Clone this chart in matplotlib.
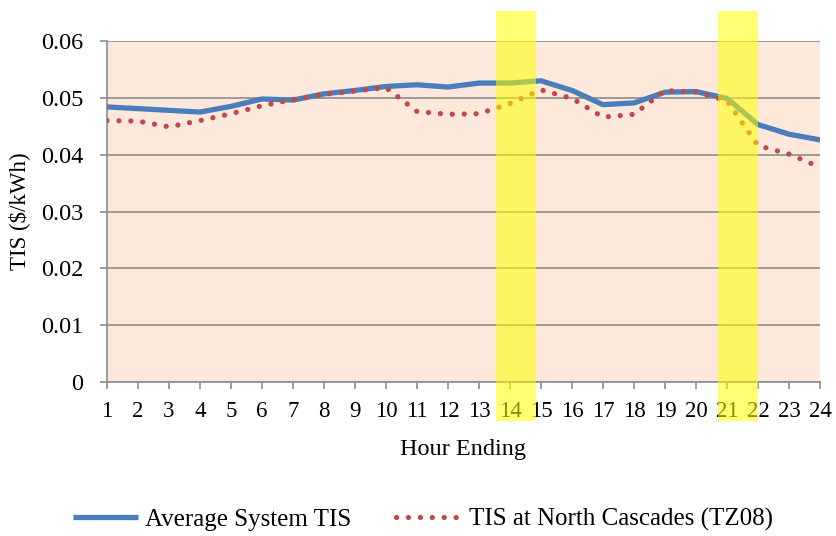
import matplotlib
matplotlib.use("Agg")
import matplotlib.pyplot as plt
import matplotlib.transforms as mtransforms
from matplotlib.patches import Rectangle
import numpy as np

plt.rcParams['font.family'] = ['Liberation Serif', 'DejaVu Serif']

hours = list(range(1, 25))
avg_tis = [0.0484, 0.0481, 0.0478, 0.0475, 0.0485, 0.0498, 0.0496, 0.0507, 0.0513,
           0.0520, 0.0523, 0.0519, 0.0526, 0.0526, 0.0530, 0.0513, 0.0488, 0.0491,
           0.0510, 0.0511, 0.0499, 0.0453, 0.0436, 0.0426]
north_cascades = [0.0460, 0.0459, 0.0449, 0.0460, 0.0472, 0.0486, 0.0497, 0.0506, 0.0512,
                  0.0518, 0.0476, 0.0471, 0.0472, 0.0490, 0.0514, 0.0499, 0.0466, 0.0471,
                  0.0513, 0.0510, 0.0495, 0.0416, 0.0401, 0.0378]
y_ticks = [0, 0.01, 0.02, 0.03, 0.04, 0.05, 0.06]
y_labels = ["0", "0.01", "0.02", "0.03", "0.04", "0.05", "0.06"]
# highlighted hours (start, end in hour units)
bands = [(13.55, 14.84), (20.71, 22.0)]

fig = plt.figure(figsize=(8.37, 5.36), dpi=100)
ax = fig.add_axes([0.1278, 0.2873, 0.9797 - 0.1278, 0.9235 - 0.2873])
ax.set_facecolor("#FDE9DC")

ax.plot(hours, avg_tis, color="#4A7EBB", lw=3.8, solid_capstyle="butt",
        label="Average System TIS", zorder=3)
ax.plot(hours, north_cascades, color="#BE4B48", lw=3.8,
        linestyle=(0, (0.01, 2.25)), dash_capstyle="round",
        label="TIS at North Cascades (TZ08)", zorder=3)

ax.set_xlim(1, 24)
ax.set_ylim(0, 0.06)
ax.set_xticks(hours)
ax.set_xticklabels([str(h) for h in hours])
ax.set_yticks(y_ticks)
ax.set_yticklabels(y_labels)
ax.grid(axis="y", color="#8C8C8C", lw=1.2, zorder=1)
ax.set_axisbelow(True)
for s in ["top", "right"]:
    ax.spines[s].set_visible(False)
for s in ["left", "bottom"]:
    ax.spines[s].set_color("#8C8C8C")
    ax.spines[s].set_linewidth(1.2)
ax.tick_params(axis="both", colors="#8C8C8C", labelcolor="black",
               length=5, width=1.2, direction="out")
ax.tick_params(axis="x", labelsize=16.5, pad=9)
ax.tick_params(axis="y", labelsize=17.5, pad=12)
ax.set_xlabel("Hour Ending", fontsize=17.5, labelpad=12)
ax.set_ylabel("TIS (\\$/kWh)", fontsize=16.5, labelpad=8)

# yellow highlight bands, spanning beyond the plot area
trans = mtransforms.blended_transform_factory(ax.transData, fig.transFigure)
for x0, x1 in bands:
    r = Rectangle((x0, 1 - 421 / 536), x1 - x0, (421 - 11) / 536,
                  transform=trans, facecolor="#FFFF00", alpha=0.55,
                  edgecolor="none", clip_on=False, zorder=5)
    fig.add_artist(r)

fig.legend(loc="center", bbox_to_anchor=(0.505, 0.03), ncol=2, frameon=False,
           fontsize=18, handlelength=2.6, columnspacing=1.8, handletextpad=0.3)

fig.savefig("out.png", dpi=100)
